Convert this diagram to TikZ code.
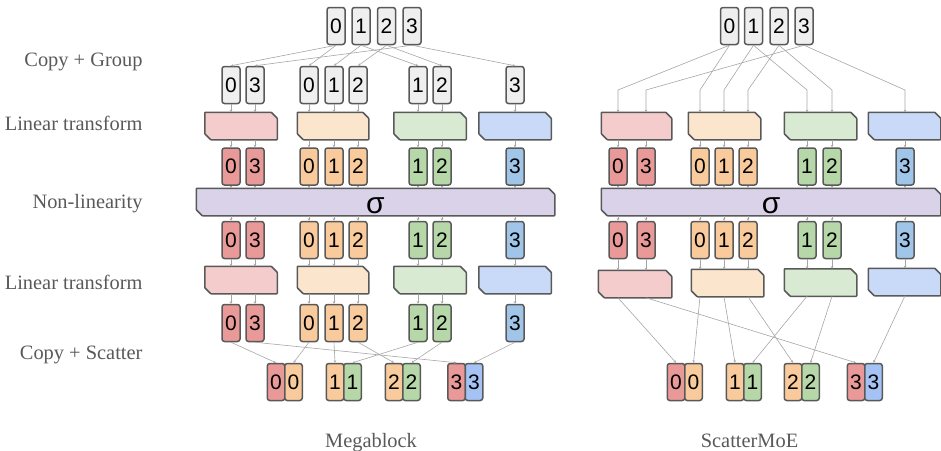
\documentclass[tikz,border=0pt]{standalone}
\usepackage{fontspec}
\setmainfont{Liberation Serif}
\newfontfamily\digitfont{Liberation Sans}
\usepackage{xcolor}
\usepackage{tikz}
\usetikzlibrary{arrows.meta}

\definecolor{boxline}{HTML}{595959}
\definecolor{wiregray}{HTML}{A6A6A6}
\definecolor{labelgray}{HTML}{595959}
\definecolor{tokgray}{HTML}{EFEFEF}
\definecolor{tokred}{HTML}{EA9999}
\definecolor{tokorange}{HTML}{F9CB9C}
\definecolor{tokgreen}{HTML}{B6D7A8}
\definecolor{tokblue}{HTML}{9FC5E8}
\definecolor{tokblueb}{HTML}{A4C2F4}
\definecolor{linred}{HTML}{F4CCCC}
\definecolor{linorange}{HTML}{FCE5CD}
\definecolor{lingreen}{HTML}{D9EAD3}
\definecolor{linblue}{HTML}{C9DAF8}
\definecolor{sigmafill}{HTML}{D9D2E9}

% box with the top right and bottom left corners cut off
\makeatletter
\pgfdeclareshape{cutbox}{
  \inheritsavedanchors[from=rectangle]
  \inheritanchorborder[from=rectangle]
  \inheritanchor[from=rectangle]{center}
  \inheritanchor[from=rectangle]{north}
  \inheritanchor[from=rectangle]{south}
  \inheritanchor[from=rectangle]{east}
  \inheritanchor[from=rectangle]{west}
  \inheritanchor[from=rectangle]{north east}
  \inheritanchor[from=rectangle]{north west}
  \inheritanchor[from=rectangle]{south east}
  \inheritanchor[from=rectangle]{south west}
  \inheritanchor[from=rectangle]{base}
  \inheritanchor[from=rectangle]{text}
  \backgroundpath{%
    \southwest \edef\cbxa{\the\pgf@x}\edef\cbya{\the\pgf@y}%
    \northeast \edef\cbxb{\the\pgf@x}\edef\cbyb{\the\pgf@y}%
    \pgfpathmoveto{\pgfqpoint{\cbxa}{\cbyb}}%
    \pgfpathlineto{\pgfpoint{\cbxb-6pt}{\cbyb}}%
    \pgfpathlineto{\pgfpoint{\cbxb}{\cbyb-6pt}}%
    \pgfpathlineto{\pgfqpoint{\cbxb}{\cbya}}%
    \pgfpathlineto{\pgfpoint{\cbxa+6pt}{\cbya}}%
    \pgfpathlineto{\pgfpoint{\cbxa}{\cbya+6pt}}%
    \pgfpathclose
  }
}
\makeatother

\tikzset{
  tok/.style={rectangle, draw=boxline, line width=1.5pt, rounded corners=2.5pt,
    minimum width=18pt, minimum height=37pt, inner sep=0pt, text=black,
    font=\digitfont\fontsize{21}{21}\selectfont},
  cell/.style={tok, minimum width=17.5pt},
  lin/.style={cutbox, rounded corners=0.6pt, draw=boxline, line width=1.5pt,
    minimum width=71pt, minimum height=26pt, inner sep=0pt},
  wire/.style={draw=wiregray, line width=0.6pt, -{Stealth[length=2.5pt,width=2.5pt]}},
  wires/.style={every edge/.style={wire}},
  lab/.style={anchor=base east, text=labelgray, font=\fontsize{20.4}{24}\selectfont}
}

\begin{document}
\begin{tikzpicture}[x=1pt, y=-1pt]
\useasboundingbox (0,0) rectangle (941,450);

% row labels
\node[lab] (lcopy) at (146,66.5) {Copy + Group};
\node[lab] (llina) at (146,130.5) {Linear transform};
\node[lab] (lnon) at (146,208) {Non-linearity};
\node[lab] (llinb) at (146,289) {Linear transform};
\node[lab] (lscat) at (146,359) {Copy + Scatter};
\node[lab, anchor=base] (cmega) at (371,447) {Megablock};
\node[lab, anchor=base] (cscat) at (749.5,447) {ScatterMoE};

%%%%% Megablock
\node[tok, fill=tokgray] (mt0) at (336,26) {0};
\node[tok, fill=tokgray] (mt1) at (361,26) {1};
\node[tok, fill=tokgray] (mt2) at (386.5,26) {2};
\node[tok, fill=tokgray] (mt3) at (412,26) {3};

\node[tok, fill=tokgray] (mg1) at (231,85) {0};
\node[tok, fill=tokgray] (mg2) at (255,85) {3};
\node[tok, fill=tokgray] (mg3) at (309,85) {0};
\node[tok, fill=tokgray] (mg4) at (334,85) {1};
\node[tok, fill=tokgray] (mg5) at (358,85) {2};
\node[tok, fill=tokgray] (mg6) at (418,85) {1};
\node[tok, fill=tokgray] (mg7) at (442,85) {2};
\node[tok, fill=tokgray] (mg8) at (515,85) {3};

\node[lin, fill=linred] (mla1) at (241,126) {};
\node[lin, fill=linorange, minimum width=70pt] (mlb1) at (333,126) {};
\node[lin, fill=lingreen] (mlc1) at (430,126) {};
\node[lin, fill=linblue] (mld1) at (515,126) {};

\node[tok, fill=tokred] (mh1) at (231,166.5) {0};
\node[tok, fill=tokred] (mh2) at (255,166.5) {3};
\node[tok, fill=tokorange] (mh3) at (309,166.5) {0};
\node[tok, fill=tokorange] (mh4) at (334,166.5) {1};
\node[tok, fill=tokorange] (mh5) at (358,166.5) {2};
\node[tok, fill=tokgreen] (mh6) at (418,166.5) {1};
\node[tok, fill=tokgreen] (mh7) at (442,166.5) {2};
\node[tok, fill=tokblue] (mh8) at (515,166.5) {3};

\node[lin, fill=sigmafill, minimum width=357pt, text height=22pt, text depth=0pt,
  font=\digitfont\fontsize{30}{30}\selectfont] (msig) at (375.5,202) {σ};

\node[tok, fill=tokred] (mo1) at (231,240) {0};
\node[tok, fill=tokred] (mo2) at (255,240) {3};
\node[tok, fill=tokorange] (mo3) at (309,240) {0};
\node[tok, fill=tokorange] (mo4) at (334,240) {1};
\node[tok, fill=tokorange] (mo5) at (358,240) {2};
\node[tok, fill=tokgreen] (mo6) at (418,240) {1};
\node[tok, fill=tokgreen] (mo7) at (442,240) {2};
\node[tok, fill=tokblue] (mo8) at (515,240) {3};

\node[lin, fill=linred] (mla2) at (241,280) {};
\node[lin, fill=linorange, minimum width=70pt] (mlb2) at (333,280) {};
\node[lin, fill=lingreen] (mlc2) at (430,280) {};
\node[lin, fill=linblue] (mld2) at (515,280) {};

\node[tok, fill=tokred] (mr1) at (231,323) {0};
\node[tok, fill=tokred] (mr2) at (255,323) {3};
\node[tok, fill=tokorange] (mr3) at (309,323) {0};
\node[tok, fill=tokorange] (mr4) at (334,323) {1};
\node[tok, fill=tokorange] (mr5) at (358,323) {2};
\node[tok, fill=tokgreen] (mr6) at (418,323) {1};
\node[tok, fill=tokgreen] (mr7) at (442,323) {2};
\node[tok, fill=tokblue] (mr8) at (515,323) {3};

\node[cell, fill=tokred] (mp0a) at (276,382) {0};
\node[cell, fill=tokorange] (mp0b) at (293.5,382) {0};
\node[cell, fill=tokorange] (mp1a) at (335,382) {1};
\node[cell, fill=tokgreen] (mp1b) at (352.5,382) {1};
\node[cell, fill=tokorange] (mp2a) at (394,382) {2};
\node[cell, fill=tokgreen] (mp2b) at (411.5,382) {2};
\node[cell, fill=tokred] (mp3a) at (456.5,382) {3};
\node[cell, fill=tokblueb] (mp3b) at (474,382) {3};

% copy + group
\path[wires] (mt0.south) edge (mg1.north) edge (mg3.north);
\path[wires] (mt1.south) edge (mg4.north) edge (mg6.north);
\path[wires] (mt2.south) edge (mg5.north) edge (mg7.north);
\path[wires] (mt3.south) edge (mg2.north) edge (mg8.north);

% through the experts
\path[wires] (mg1) edge (mg1 |- mla1.north) (mg2) edge (mg2 |- mla1.north)
  (mg3) edge (mg3 |- mlb1.north) (mg4) edge (mg4 |- mlb1.north) (mg5) edge (mg5 |- mlb1.north)
  (mg6) edge (mg6 |- mlc1.north) (mg7) edge (mg7 |- mlc1.north) (mg8) edge (mg8 |- mld1.north);
\path[wires] (mh1 |- mla1.south) edge (mh1) (mh2 |- mla1.south) edge (mh2)
  (mh3 |- mlb1.south) edge (mh3) (mh4 |- mlb1.south) edge (mh4) (mh5 |- mlb1.south) edge (mh5)
  (mh6 |- mlc1.south) edge (mh6) (mh7 |- mlc1.south) edge (mh7) (mh8 |- mld1.south) edge (mh8);
\path[wires] (mh1) edge (mh1 |- msig.north) (mh2) edge (mh2 |- msig.north)
  (mh3) edge (mh3 |- msig.north) (mh4) edge (mh4 |- msig.north) (mh5) edge (mh5 |- msig.north)
  (mh6) edge (mh6 |- msig.north) (mh7) edge (mh7 |- msig.north) (mh8) edge (mh8 |- msig.north);
\path[wires] (mo1 |- msig.south) edge (mo1) (mo2 |- msig.south) edge (mo2)
  (mo3 |- msig.south) edge (mo3) (mo4 |- msig.south) edge (mo4) (mo5 |- msig.south) edge (mo5)
  (mo6 |- msig.south) edge (mo6) (mo7 |- msig.south) edge (mo7) (mo8 |- msig.south) edge (mo8);
\path[wires] (mo1) edge (mo1 |- mla2.north) (mo2) edge (mo2 |- mla2.north)
  (mo3) edge (mo3 |- mlb2.north) (mo4) edge (mo4 |- mlb2.north) (mo5) edge (mo5 |- mlb2.north)
  (mo6) edge (mo6 |- mlc2.north) (mo7) edge (mo7 |- mlc2.north) (mo8) edge (mo8 |- mld2.north);
\path[wires] (mr1 |- mla2.south) edge (mr1) (mr2 |- mla2.south) edge (mr2)
  (mr3 |- mlb2.south) edge (mr3) (mr4 |- mlb2.south) edge (mr4) (mr5 |- mlb2.south) edge (mr5)
  (mr6 |- mlc2.south) edge (mr6) (mr7 |- mlc2.south) edge (mr7) (mr8 |- mld2.south) edge (mr8);

% copy + scatter
\path[wires] (mr1.south) edge (mp0a.north) (mr2.south) edge (mp3a.north)
  (mr3.south) edge (mp0b.north) (mr4.south) edge (mp1a.north)
  (mr5.south) edge (mp2a.north) (mr6.south) edge (mp1b.north)
  (mr7.south) edge (mp2b.north) (mr8.south) edge (mp3b.north);

%%%%% ScatterMoE
\node[tok, fill=tokgray] (st0) at (729.5,26) {0};
\node[tok, fill=tokgray] (st1) at (753.5,26) {1};
\node[tok, fill=tokgray] (st2) at (779,26) {2};
\node[tok, fill=tokgray] (st3) at (804,26) {3};

\node[lin, fill=linred, minimum width=69pt] (sla1) at (636.5,126) {};
\node[lin, fill=linorange] (slb1) at (724.5,126) {};
\node[lin, fill=lingreen] (slc1) at (820.5,126) {};
\node[lin, fill=linblue] (sld1) at (904.5,126) {};

\node[tok, fill=tokred] (sh1) at (618,166.5) {0};
\node[tok, fill=tokred] (sh2) at (646,166.5) {3};
\node[tok, fill=tokorange] (sh3) at (700,166.5) {0};
\node[tok, fill=tokorange] (sh4) at (724,166.5) {1};
\node[tok, fill=tokorange] (sh5) at (748,166.5) {2};
\node[tok, fill=tokgreen] (sh6) at (807,166.5) {1};
\node[tok, fill=tokgreen] (sh7) at (832,166.5) {2};
\node[tok, fill=tokblue] (sh8) at (905,166.5) {3};

\node[lin, fill=sigmafill, minimum width=338pt, text height=22pt, text depth=0pt,
  font=\digitfont\fontsize{30}{30}\selectfont] (ssig) at (771,202) {σ};

\node[tok, fill=tokred] (so1) at (618,240) {0};
\node[tok, fill=tokred] (so2) at (646,240) {3};
\node[tok, fill=tokorange] (so3) at (700,240) {0};
\node[tok, fill=tokorange] (so4) at (724,240) {1};
\node[tok, fill=tokorange] (so5) at (748,240) {2};
\node[tok, fill=tokgreen] (so6) at (807,240) {1};
\node[tok, fill=tokgreen] (so7) at (832,240) {2};
\node[tok, fill=tokblue] (so8) at (905,240) {3};

\node[lin, fill=linred, minimum width=72pt] (sla2) at (635,284) {};
\node[lin, fill=linorange] (slb2) at (727.5,283) {};
\node[lin, fill=lingreen] (slc2) at (820.5,282.5) {};
\node[lin, fill=linblue, minimum width=71pt] (sld2) at (904.5,282) {};

\node[cell, fill=tokred] (sp0a) at (676,382) {0};
\node[cell, fill=tokorange] (sp0b) at (693.5,382) {0};
\node[cell, fill=tokorange] (sp1a) at (735,382) {1};
\node[cell, fill=tokgreen] (sp1b) at (752.5,382) {1};
\node[cell, fill=tokorange] (sp2a) at (793,382) {2};
\node[cell, fill=tokgreen] (sp2b) at (810.5,382) {2};
\node[cell, fill=tokred] (sp3a) at (856,382) {3};
\node[cell, fill=tokblueb] (sp3b) at (873.5,382) {3};

% copy + group, straight into the experts
\coordinate (sbend) at (0,90);
\draw[wire] (st0.south) -- (sh1 |- sbend) -- (sh1 |- sla1.north);
\draw[wire] (st0.south) -- (sh3 |- sbend) -- (sh3 |- slb1.north);
\draw[wire] (st1.south) -- (sh4 |- sbend) -- (sh4 |- slb1.north);
\draw[wire] (st1.south) -- (sh6 |- sbend) -- (sh6 |- slc1.north);
\draw[wire] (st2.south) -- (sh5 |- sbend) -- (sh5 |- slb1.north);
\draw[wire] (st2.south) -- (sh7 |- sbend) -- (sh7 |- slc1.north);
\draw[wire] (st3.south) -- (sh2 |- sbend) -- (sh2 |- sla1.north);
\draw[wire] (st3.south) -- (sh8 |- sbend) -- (sh8 |- sld1.north);

\path[wires] (sh1 |- sla1.south) edge (sh1) (sh2 |- sla1.south) edge (sh2)
  (sh3 |- slb1.south) edge (sh3) (sh4 |- slb1.south) edge (sh4) (sh5 |- slb1.south) edge (sh5)
  (sh6 |- slc1.south) edge (sh6) (sh7 |- slc1.south) edge (sh7) (sh8 |- sld1.south) edge (sh8);
\path[wires] (sh1) edge (sh1 |- ssig.north) (sh2) edge (sh2 |- ssig.north)
  (sh3) edge (sh3 |- ssig.north) (sh4) edge (sh4 |- ssig.north) (sh5) edge (sh5 |- ssig.north)
  (sh6) edge (sh6 |- ssig.north) (sh7) edge (sh7 |- ssig.north) (sh8) edge (sh8 |- ssig.north);
\path[wires] (so1 |- ssig.south) edge (so1) (so2 |- ssig.south) edge (so2)
  (so3 |- ssig.south) edge (so3) (so4 |- ssig.south) edge (so4) (so5 |- ssig.south) edge (so5)
  (so6 |- ssig.south) edge (so6) (so7 |- ssig.south) edge (so7) (so8 |- ssig.south) edge (so8);
\path[wires] (so1) edge (so1 |- sla2.north) (so2) edge (so2 |- sla2.north)
  (so3) edge (so3 |- slb2.north) (so4) edge (so4 |- slb2.north) (so5) edge (so5 |- slb2.north)
  (so6) edge (so6 |- slc2.north) (so7) edge (so7 |- slc2.north) (so8) edge (so8 |- sld2.north);

% scatter straight out of the experts
\path[wires] (so1 |- sla2.south) edge (sp0a.north) (so2 |- sla2.south) edge (sp3a.north)
  (so3 |- slb2.south) edge (sp0b.north) (so4 |- slb2.south) edge (sp1a.north)
  (so5 |- slb2.south) edge (sp2a.north) (so6 |- slc2.south) edge (sp1b.north)
  (so7 |- slc2.south) edge (sp2b.north) (so8 |- sld2.south) edge (sp3b.north);

\end{tikzpicture}
\end{document}
